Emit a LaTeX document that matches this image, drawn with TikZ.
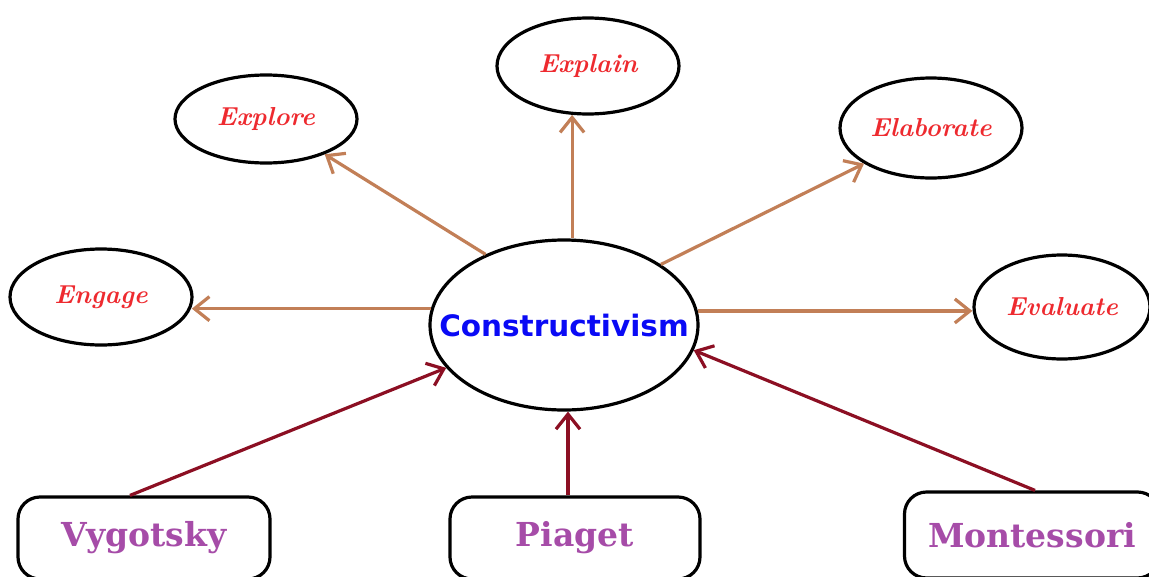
\documentclass[tikz,border=0pt]{standalone}
\usepackage{fontspec}
\usetikzlibrary{shapes.geometric,arrows.meta}
\newfontfamily\cfont{DejaVu Sans}
\newfontfamily\nfont{DejaVu Serif}
\definecolor{redtxt}{HTML}{EE2A2F}
\definecolor{purptxt}{HTML}{A64CA8}
\definecolor{bluetxt}{HTML}{0A0AF5}
\definecolor{tanline}{HTML}{C27F57}
\definecolor{darkline}{HTML}{8C0F23}
\begin{document}
\begin{tikzpicture}[x=1pt,y=-1pt,
  phase/.style={ellipse,draw=black,line width=3.2pt,inner sep=0pt,fill=white,
    font=\fontsize{26}{28}\selectfont\bfseries\itshape,text=redtxt},
  centre/.style={ellipse,draw=black,line width=3.2pt,inner sep=0pt,
    font=\cfont\fontsize{29.5}{32}\selectfont\bfseries,text=bluetxt},
  person/.style={rectangle,rounded corners=22pt,draw=black,line width=3.2pt,inner sep=0pt,
    font=\nfont\fontsize{33}{36}\selectfont\bfseries,text=purptxt},
  outarrow/.style={draw=tanline,line width=3.2pt,-{Straight Barb[length=15pt,width=24pt,line width=3.2pt]}},
  inarrow/.style={draw=darkline,line width=3.2pt,-{Straight Barb[length=15pt,width=24pt,line width=3.2pt]}}]
\clip (0,0) rectangle (1149,576);
\fill[white] (0,0) rectangle (1149,576);

\node[centre,minimum width=268pt,minimum height=170pt] (c) at (564,325) {\makebox[0pt]{Constructivism}};
\node[phase,minimum width=182pt,minimum height=96pt] (ex) at (588,66) {\makebox[0pt]{Explain}};
\node[phase,minimum width=182pt,minimum height=88pt] (xp) at (266,119) {\makebox[0pt]{Explore}};
\node[phase,minimum width=182pt,minimum height=100pt] (el) at (931,128) {\makebox[0pt]{Elaborate}};
\node[phase,minimum width=182pt,minimum height=96pt] (en) at (101,297) {\makebox[0pt]{Engage}};
\node[phase,minimum width=176pt,minimum height=104pt] (ev) at (1062,307) {\makebox[0pt]{Evaluate}};

\node[person,minimum width=252pt,minimum height=82pt] (vy) at (144,538) {Vygotsky};
\node[person,minimum width=250pt,minimum height=82pt] (pi) at (575,538) {Piaget};
\node[person,minimum width=255pt,minimum height=86pt] (mo) at (1032,535) {Montessori};

\draw[outarrow] (c.138.5) -- (xp.-31);
\draw[outarrow] (ex.-108 |- c.north) -- (ex.-108);
\draw[outarrow] (c.32) -- (el.208.4);
\draw[outarrow] (c.173) -- (en.-6 |- c.173);
\draw[outarrow] (c.6) -- (ev.west |- c.6);

\draw[inarrow] ([xshift=-14pt]vy.north) -- (c.200.7);
\draw[inarrow] ([xshift=-7pt]pi.north) -- ([xshift=4pt]c.south);
\draw[inarrow] ([xshift=3pt]mo.north) -- (c.-11);
\end{tikzpicture}
\end{document}
